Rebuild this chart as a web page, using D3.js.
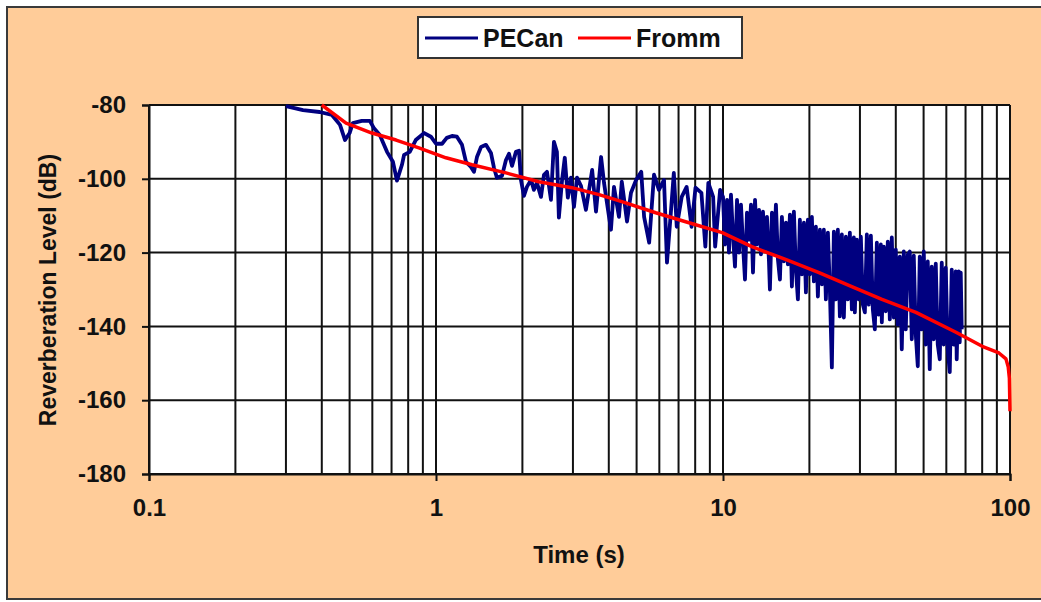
<!DOCTYPE html>
<html><head><meta charset="utf-8">
<script src="https://cdn.jsdelivr.net/npm/d3@7"></script>
<style>body{margin:0;background:#fff;}svg{display:block;font-family:"Liberation Sans",Arial,sans-serif;font-weight:bold;}</style>
</head><body>
<svg id="c" width="1041" height="602"></svg>
<script>
// ---- data ----
const seriesNames = ["PECan", "Fromm"];
const xTickValues = [0.1, 1, 10, 100];
const xTickLabels = ["0.1", "1", "10", "100"];
const yTickValues = [-80, -100, -120, -140, -160, -180];
const yTickLabels = ["-80", "-100", "-120", "-140", "-160", "-180"];

const pecanTime = [0.300,0.344,0.393,0.434,0.463,0.482,0.500,0.513,0.551,0.588,0.607,0.637,0.675,0.708,0.731,0.761,0.774,0.810,0.850,0.910,0.960,
1.00,1.05,1.09,1.137,1.183,1.232,1.272,1.324,1.356,1.389,1.435,1.493,1.554,1.592,1.630,1.698,1.753,1.796,1.840,1.899,1.946,1.977,
2.025,2.074,2.143,2.194,2.248,2.322,2.378,2.436,2.515,2.576,2.638,2.68,2.75,2.81,2.88,2.952,3.025,3.099,3.20,3.33,3.50,3.61,3.76,3.85,
4.07,4.17,4.34,4.44,4.63,4.78,4.98,5.19,5.31,5.53,5.75,5.98,6.23,6.38,6.58,6.74,6.90,7.18,7.47,7.77,8.02,8.41,8.68,8.89,9.24,9.39,9.77,
10.0,10.16,10.33,10.49,10.66,10.83,11.01,11.19,11.37,11.55,11.74,11.93,12.12,12.32,12.52,12.72,12.93,13.13,13.35,13.56,13.78,14.0,14.23,14.46,14.57,
14.81,15.05,15.29,15.54,15.79,16.04,16.30,16.57,16.83,17.11,17.38,17.66,17.95,18.24,18.53,18.83,19.14,19.45,19.76,20.08,20.40,20.73,21.07,21.41,
21.76,22.11,22.46,22.83,23.20,23.57,23.95,24.34,24.73,25.13,25.54,25.95,26.37,26.80,27.23,27.67,28.12,28.57,28.80,29.27,29.74,30.22,30.71,31.21,
31.71,32.22,32.75,33.27,33.81,34.36,34.91,35.48,35.76,36.34,36.92,37.52,38.13,38.74,39.37,40.0,40.65,41.31,41.97,42.65,43.34,44.04,44.75,45.48,
46.21,46.96,47.72,48.49,49.27,50.07,50.88,51.70,52.53,53.38,54.25,55.12,56.01,56.92,57.84,58.77,59.72,60.69,61.67,62.66,63.67,64.70,65.22,66.27,
66.81,67.35,67.89];
const pecanLevel = [-80.3,-81.4,-81.9,-82.7,-85.4,-89.5,-87.6,-84.9,-84.3,-84.3,-86.2,-88.1,-92.7,-95.4,-100.5,-96.2,-93.5,-92.7,-89.5,-87.6,-88.6,
-90.5,-90.5,-88.9,-88.4,-88.6,-90.8,-95.4,-96.8,-98.1,-94.1,-91.4,-90.8,-93.0,-97.0,-99.7,-99.2,-94.9,-93.2,-96.5,-92.7,-92.4,-100.3,
-104.6,-102.2,-100.3,-103.0,-101.1,-104.9,-98.9,-98.1,-105.7,-90.0,-92.7,-110.5,-100.3,-94.3,-105.1,-99.7,-107.6,-99.7,-101.9,-108.4,-97.6,-108.9,-94.1,-101.1,
-113.8,-102.2,-110.3,-100.8,-111.6,-103.8,-100.3,-98.1,-110.3,-117.3,-98.9,-103.0,-100.3,-122.7,-109.2,-98.4,-113.0,-104.9,-102.2,-113.0,-102.4,-103.8,-118.4,-101.1,-104.9,-118.4,-103.0,
-104.9,-117.8,-105.7,-120.0,-104.3,-115.1,-123.8,-105.7,-120.0,-107.0,-117.8,-127.3,-109.2,-116.5,-107.0,-125.4,-105.7,-117.8,-108.4,-120.5,-108.9,-119.2,-110.3,-122.4,-130.0,
-109.2,-120.5,-107.0,-121.9,-127.3,-110.3,-122.4,-111.9,-123.2,-109.7,-129.2,-108.9,-124.6,-132.7,-111.1,-125.9,-111.9,-130.8,-111.1,-125.9,-110.3,-127.8,-113.0,-131.9,
-113.8,-128.6,-113.8,-132.7,-114.6,-130.0,-151.1,-114.3,-132.7,-113.8,-137.3,-115.1,-137.6,-115.7,-132.7,-114.6,-135.4,-115.9,-136.2,-116.5,-132.7,-115.7,-134.1,-136.2,
-115.1,-134.1,-115.4,-135.4,-140.8,-117.3,-136.8,-117.8,-138.9,-118.4,-135.9,-117.0,-138.1,-115.9,-137.6,-119.2,-139.5,-121.1,-146.2,-119.7,-140.8,-120.5,-119.7,-143.5,
-120.8,-142.2,-150.8,-121.1,-140.8,-119.7,-144.9,-122.4,-151.6,-123.8,-143.5,-123.0,-144.9,-148.9,-122.7,-144.9,-124.1,-146.2,-152.4,-124.6,-144.9,-125.1,-148.9,-125.1,
-144.3,-125.4,-140.8];

const frommTime = [0.40,0.486,0.598,0.726,0.872,1.083,1.335,1.753,2.284,2.975,3.70,4.44,5.83,7.61,9.94,12.6,16.6,21.6,28.1,35.8,47.0,64.8,80.0,91.5,96.8,98.6,99.5,100];
const frommLevel = [-80,-84.9,-87.6,-89.5,-91.6,-94.3,-96.2,-98.4,-100.8,-102.4,-104.3,-106.2,-109.2,-111.9,-114.6,-118.4,-121.9,-125.4,-129.2,-132.7,-136.2,-141.6,-145.4,-147.2,-148.8,-151,-154,-163];

// ---- drawing ----
const svg = d3.select("#c");
const L = 149, R = 1010, T = 105, B = 474;
const x = d3.scaleLog().domain([0.1, 100]).range([L, R]);
const y = d3.scaleLinear().domain([-180, -80]).range([B, T]);

svg.append("rect").attr("x", 7).attr("y", 7).attr("width", 1045).attr("height", 592)
  .attr("fill", "#FFCC99").attr("stroke", "#3a3a3a").attr("stroke-width", 2);

svg.append("rect").attr("x", L).attr("y", T).attr("width", R - L).attr("height", B - T).attr("fill", "#fff");

svg.append("clipPath").attr("id", "clip").append("rect")
  .attr("x", L).attr("y", T - 2).attr("width", R - L + 2).attr("height", B - T + 4);

// grid
const g = svg.append("g");
g.selectAll("line.v").data(x.ticks()).join("line")
  .attr("x1", d => x(d)).attr("x2", d => x(d)).attr("y1", T).attr("y2", B)
  .attr("stroke", "#111").attr("stroke-width", 2);
g.selectAll("line.h").data(yTickValues).join("line")
  .attr("x1", L).attr("x2", R).attr("y1", d => y(d)).attr("y2", d => y(d))
  .attr("stroke", "#111").attr("stroke-width", 2);

// axes
const yAxis = svg.append("g").attr("transform", `translate(${L},0)`)
  .call(d3.axisLeft(y).tickValues(yTickValues).tickSize(7).tickPadding(16).tickFormat((d, i) => yTickLabels[i]));
const xAxis = svg.append("g").attr("transform", `translate(0,${B})`)
  .call(d3.axisBottom(x).tickValues(xTickValues).tickSize(7).tickPadding(18).tickFormat((d, i) => xTickLabels[i]));
[yAxis, xAxis].forEach(a => {
  a.select(".domain").attr("stroke", "#111").attr("stroke-width", 2);
  a.selectAll(".tick line").attr("stroke", "#111").attr("stroke-width", 2);
  a.selectAll("text").attr("fill", "#111").attr("font-size", 24).attr("font-weight", "bold")
    .attr("font-family", "'Liberation Sans', Arial, sans-serif");
});

// series
const lineGen = d3.line().x(d => x(d[0])).y(d => y(d[1]));
const pecan = pecanTime.map((t, i) => [t, pecanLevel[i]]);
const fromm = frommTime.map((t, i) => [t, frommLevel[i]]);
const plot = svg.append("g").attr("clip-path", "url(#clip)");
plot.append("path").datum(pecan).attr("d", lineGen).attr("fill", "none")
  .attr("stroke", "#000080").attr("stroke-width", 3.8).attr("stroke-linejoin", "round");
plot.append("path").datum(fromm).attr("d", lineGen).attr("fill", "none")
  .attr("stroke", "#FF0000").attr("stroke-width", 3.5).attr("stroke-linejoin", "round");

// titles
svg.append("text").attr("x", 579).attr("y", 563).attr("text-anchor", "middle")
  .attr("font-size", 24).attr("fill", "#111").text("Time (s)");
svg.append("text").attr("transform", "translate(56,290) rotate(-90)").attr("text-anchor", "middle")
  .attr("font-size", 23).attr("fill", "#111").text("Reverberation Level (dB)");

// legend
const lg = svg.append("g");
lg.append("rect").attr("x", 418).attr("y", 17).attr("width", 324).attr("height", 41)
  .attr("fill", "#fff").attr("stroke", "#333").attr("stroke-width", 2);
const legendColors = ["#000080", "#FF0000"];
const legendX = [425, 578];
seriesNames.forEach((n, i) => {
  lg.append("line").attr("x1", legendX[i]).attr("x2", legendX[i] + 53).attr("y1", 38).attr("y2", 38)
    .attr("stroke", legendColors[i]).attr("stroke-width", 3);
  lg.append("text").attr("x", legendX[i] + 58).attr("y", 47).attr("font-size", 25).attr("fill", "#111").text(n);
});
</script>
</body></html>
